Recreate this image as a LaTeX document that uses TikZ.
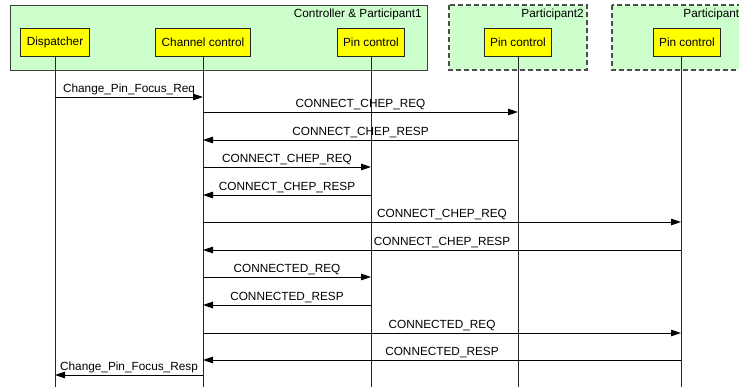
\documentclass[tikz,border=0pt]{standalone}
\usepackage{fontspec}
\setmainfont{Liberation Sans}
\usetikzlibrary{arrows.meta,calc,positioning}
\definecolor{sgreen}{HTML}{CCFFCC}
\definecolor{syellow}{HTML}{FFFF00}
\tikzset{
  >={Triangle[length=10pt,width=6.5pt]},
  sgroup/.style={fill=sgreen, draw=black!75, line width=0.8pt},
  sgroupd/.style={sgroup, draw=black!70, line width=1.2pt, dash pattern=on 5pt off 3pt},
  sgrplbl/.style={anchor=north east, inner sep=2pt, font=\fontsize{11.8}{14}\selectfont},
  slife/.style={draw=black!85, fill=syellow, line width=0.9pt, minimum height=28pt,
                inner xsep=6pt, font=\fontsize{11.8}{14}\selectfont},
  sline/.style={black!85, line width=0.9pt},
  smsg/.style={->, black, line width=0.9pt},
  smlbl/.style={above, inner sep=1.5pt, font=\fontsize{11.8}{14}\selectfont},
}
\begin{document}
\begin{tikzpicture}[x=1pt,y=-1pt]
  \useasboundingbox (0,0) rectangle (739,387);
  \clip (0,0) rectangle (739,387);

  % groups
  \draw[sgroup]  (10,5)  rectangle (427,70);
  \draw[sgroupd] (449,5) rectangle (587,70);
  \draw[sgroupd] (612,5) rectangle (752,70);
  \node[sgrplbl] (g1) at (424,7) {Controller \& Participant1};
  \node[sgrplbl] (g2) at (586,7) {Participant2};
  \node[sgrplbl] (g3) at (748,7) {Participant3};

  % lifelines
  \node[slife] (disp) at (55,42)  {Dispatcher};
  \node[slife] (chan) at (203,42) {Channel control};
  \node[slife] (pin1) at (371,42) {Pin control};
  \node[slife] (pin2) at (518,42) {Pin control};
  \node[slife] (pin3) at (687,42) {Pin control};
  \coordinate (pin3l) at (681,56);

  \draw[sline] (disp.south) -- (disp |- 0,390);
  \draw[sline] (chan.south) -- (chan |- 0,390);
  \draw[sline] (pin1.south) -- (pin1 |- 0,390);
  \draw[sline] (pin2.south) -- (pin2 |- 0,390);
  \draw[sline] (pin3l) -- (pin3l |- 0,390);

  % messages
  \draw[smsg] (disp |- 0,97)  -- node[smlbl] {Change\_Pin\_Focus\_Req} (chan |- 0,97);
  \draw[smsg] (chan |- 0,112) -- node[smlbl] {CONNECT\_CHEP\_REQ} (pin2 |- 0,112);
  \draw[smsg] (pin2 |- 0,140) -- node[smlbl] {CONNECT\_CHEP\_RESP} (chan |- 0,140);
  \draw[smsg] (chan |- 0,167) -- node[smlbl] {CONNECT\_CHEP\_REQ} (pin1 |- 0,167);
  \draw[smsg] (pin1 |- 0,195) -- node[smlbl] {CONNECT\_CHEP\_RESP} (chan |- 0,195);
  \draw[smsg] (chan |- 0,222) -- node[smlbl] {CONNECT\_CHEP\_REQ} (pin3l |- 0,222);
  \draw[smsg] (pin3l |- 0,250) -- node[smlbl] {CONNECT\_CHEP\_RESP} (chan |- 0,250);
  \draw[smsg] (chan |- 0,277) -- node[smlbl] {CONNECTED\_REQ} (pin1 |- 0,277);
  \draw[smsg] (pin1 |- 0,305) -- node[smlbl] {CONNECTED\_RESP} (chan |- 0,305);
  \draw[smsg] (chan |- 0,333) -- node[smlbl] {CONNECTED\_REQ} (pin3l |- 0,333);
  \draw[smsg] (pin3l |- 0,360) -- node[smlbl] {CONNECTED\_RESP} (chan |- 0,360);
  \draw[smsg] (chan |- 0,375) -- node[smlbl] {Change\_Pin\_Focus\_Resp} (disp |- 0,375);

\end{tikzpicture}
\end{document}
